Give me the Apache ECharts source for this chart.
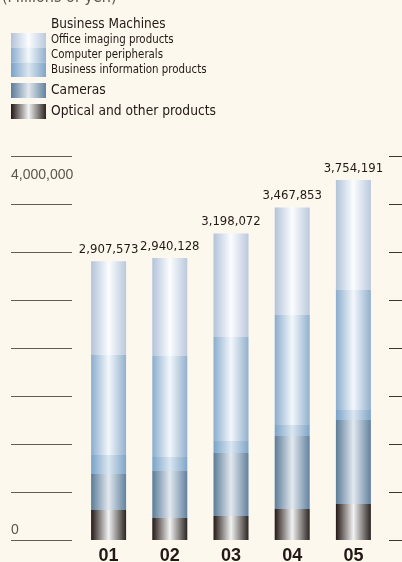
<!DOCTYPE html>
<html>
<head>
<meta charset="utf-8">
<title>Net sales by product</title>
<script src="https://cdn.jsdelivr.net/npm/echarts@6/dist/echarts.min.js"></script>
<style>
  * {
    margin: 0;
    padding: 0;
    box-sizing: border-box;
  }
  body {
    background: #fcf8ed;
  }
  #chart {
    width: 402px;
    height: 562px;
  }
</style>
</head>
<body>
<div id="chart"></div>
<script>
// years and totals (millions of yen)
const years = ['01', '02', '03', '04', '05']
const totals = [2907573, 2940128, 3198072, 3467853, 3754191]

// segments, bottom to top
const optical = [312800, 229400, 250300, 323300, 375400]
const cameras = [375400, 490100, 657000, 761200, 875900]
const businessInfo = [198100, 146000, 125100, 114700, 104300]
const computerPeripherals = [1042700, 1053200, 1084500, 1147000, 1251300]
const officeImaging = [978573, 1021428, 1081172, 1121653, 1147291]

const yTicks = { min: 0, max: 4000000, interval: 500000 }

const narrow = "'DejaVu Sans Condensed', 'Liberation Sans', sans-serif"
const ink = '#231815'

// horizontal "cylinder" shading for each segment
const shade = (left, mid, right) => ({
  type: 'linear',
  x: 0, y: 0, x2: 1, y2: 0,
  colorStops: [
    { offset: 0, color: left },
    { offset: 0.5, color: mid },
    { offset: 1, color: right }
  ]
})

const chart = echarts.init(document.getElementById('chart'))

const barSeries = (name, data, color) => ({
  name: name,
  type: 'bar',
  stack: 'sales',
  barWidth: 35,
  data: data,
  itemStyle: { color: color },
  emphasis: { disabled: true }
})

const topSeries = barSeries('Office imaging products', officeImaging, shade('#b2c3d9', '#fbfdff', '#bac9dd'))
topSeries.label = {
  show: true,
  position: 'top',
  distance: 5,
  color: ink,
  fontFamily: narrow,
  fontSize: 13,
  formatter: p => totals[p.dataIndex].toLocaleString('en-US')
}

chart.setOption({
  backgroundColor: '#fcf8ed',
  animation: false,
  title: [
    {
      text: '(Millions of yen)',
      left: 2,
      top: -10,
      padding: 0,
      textStyle: { color: '#5b554d', fontFamily: narrow, fontSize: 16, fontWeight: 'normal' }
    },
    {
      text: 'Business Machines',
      left: 51,
      top: 17,
      padding: 0,
      textStyle: { color: ink, fontFamily: narrow, fontSize: 13.5, fontWeight: 'normal' }
    }
  ],
  legend: [
    {
      data: ['Office imaging products', 'Computer peripherals', 'Business information products'],
      orient: 'vertical',
      left: 11,
      top: 33,
      padding: 0,
      itemWidth: 35,
      itemHeight: 14.7,
      itemGap: 0,
      icon: 'rect',
      selectedMode: false,
      textStyle: { color: ink, fontFamily: narrow, fontSize: 11.4, lineHeight: 14.7 }
    },
    {
      data: ['Cameras', 'Optical and other products'],
      orient: 'vertical',
      left: 11,
      top: 83,
      padding: 0,
      itemWidth: 35,
      itemHeight: 15,
      itemGap: 6,
      icon: 'rect',
      selectedMode: false,
      textStyle: { color: ink, fontFamily: narrow, fontSize: 13.7, lineHeight: 15 }
    }
  ],
  grid: { left: 78, right: 18, top: 156.5, bottom: 22, outerBoundsMode: 'none' },
  xAxis: {
    type: 'category',
    data: years,
    axisLine: { show: false },
    axisTick: { show: false },
    axisLabel: { color: ink, fontFamily: "'Liberation Sans', sans-serif", fontWeight: 'bold', fontSize: 18, margin: 7 }
  },
  yAxis: [
    {
      type: 'value',
      ...yTicks,
      position: 'left',
      offset: 6,
      axisLine: { show: false },
      axisTick: { show: true, length: 61, lineStyle: { color: '#625c52', width: 1 } },
      splitLine: { show: false },
      axisLabel: {
        formatter: v => (v === 0 ? '0' : ''),
        align: 'left',
        verticalAlign: 'bottom',
        margin: 61,
        padding: [0, 0, 3, 0],
        color: '#5b554d',
        fontFamily: "'Liberation Sans', sans-serif",
        fontSize: 14
      }
    },
    {
      type: 'value',
      ...yTicks,
      position: 'left',
      offset: 6,
      axisLine: { show: false },
      axisTick: { show: false },
      splitLine: { show: false },
      axisLabel: {
        formatter: v => (v === 4000000 ? '4,000,000' : ''),
        align: 'left',
        verticalAlign: 'top',
        margin: 61,
        padding: [12, 0, 0, 0],
        color: '#5b554d',
        fontFamily: "'Liberation Sans', sans-serif",
        fontSize: 14
      }
    },
    {
      type: 'value',
      ...yTicks,
      position: 'right',
      offset: 5,
      axisLine: { show: false },
      axisTick: { show: true, length: 13, lineStyle: { color: '#3a352f', width: 1 } },
      splitLine: { show: false },
      axisLabel: { show: false }
    }
  ],
  series: [
    barSeries('Optical and other products', optical, shade('#231815', '#f2f2f2', '#2b2522')),
    barSeries('Cameras', cameras, shade('#5b7c99', '#e2e8ee', '#62829f')),
    barSeries('Business information products', businessInfo, shade('#79a3c8', '#dbe6f0', '#80a5c7')),
    barSeries('Computer peripherals', computerPeripherals, shade('#8aadcd', '#f3f7fb', '#92b0cd')),
    topSeries
  ]
})
</script>
</body>
</html>
